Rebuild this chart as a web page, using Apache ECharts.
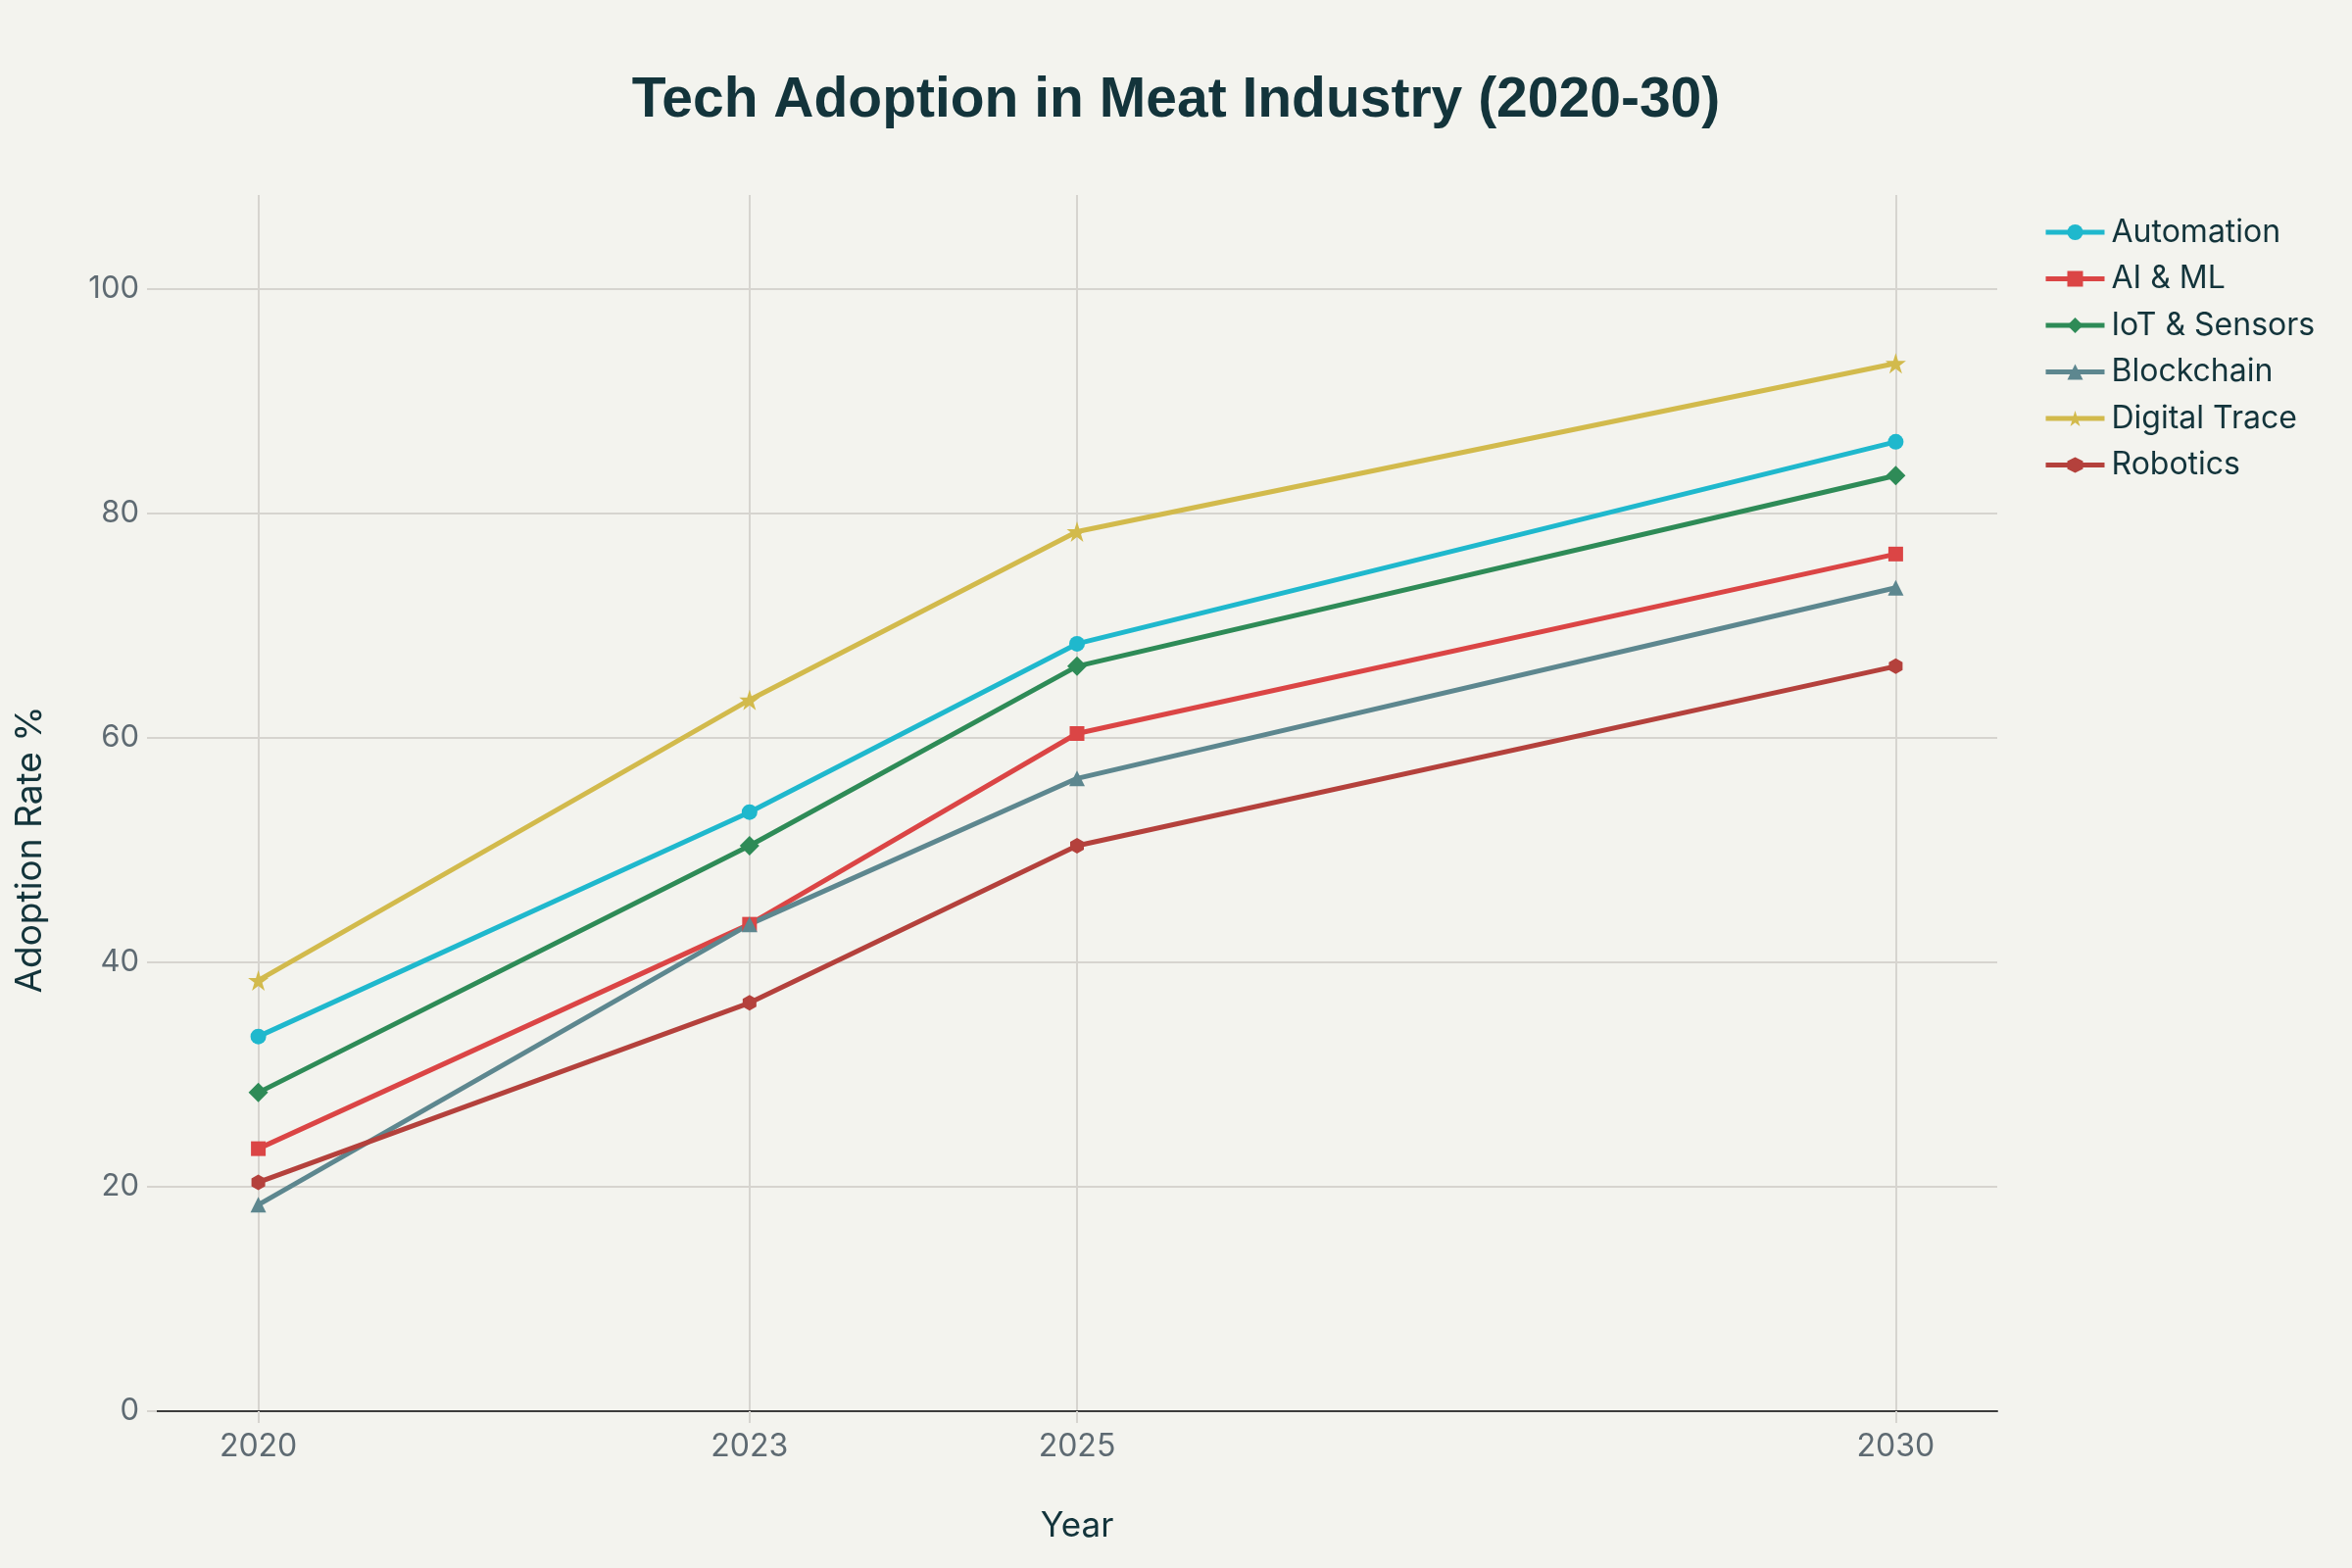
<!DOCTYPE html>
<html>
<head>
<meta charset="utf-8">
<script src="https://cdn.jsdelivr.net/npm/echarts@6/dist/echarts.min.js"></script>
<style>
  html, body { margin: 0; padding: 0; background: #F3F3EE; }
  #chart { width: 2400px; height: 1600px; }
</style>
</head>
<body>
<div id="chart"></div>
<script>
// 数据
var years = [2020, 2023, 2025, 2030]
var yTicks = [0, 20, 40, 60, 80, 100]
var names = ['Automation', 'AI & ML', 'IoT & Sensors', 'Blockchain', 'Digital Trace', 'Robotics']
var automation = [33.4, 53.4, 68.4, 86.4]
var aiml = [23.4, 43.4, 60.4, 76.4]
var iot = [28.4, 50.4, 66.4, 83.4]
var blockchain = [18.4, 43.4, 56.4, 73.4]
var digitalTrace = [38.4, 63.4, 78.4, 93.4]
var robotics = [20.4, 36.4, 50.4, 66.4]

var colors = ['#1FB8CD', '#DB4545', '#2E8B57', '#5D878F', '#D2BA4C', '#B4413C']
var star = 'path://M0,-1 L0.2245,-0.309 L0.951,-0.309 L0.363,0.118 L0.588,0.809 L0,0.382 L-0.588,0.809 L-0.363,0.118 L-0.951,-0.309 L-0.2245,-0.309 Z'
var hexagon = 'path://M0,-1 L0.866,-0.5 L0.866,0.5 L0,1 L-0.866,0.5 L-0.866,-0.5 Z'
var symbols = ['circle', 'rect', 'diamond', 'triangle', star, hexagon]
var sizes = [16, 15, 20, 16, 21, [14, 16]]

var gridColor = '#D6D4CF'
var textColor = '#13343B'
var tickColor = '#5E6A72'
var font = 'Inter'

function pairs(vals) {
  var out = []
  for (var i = 0; i < years.length; i++) {
    out.push([years[i], vals[i]])
  }
  return out
}

var allData = [automation, aiml, iot, blockchain, digitalTrace, robotics]
var series = []
for (var i = 0; i < names.length; i++) {
  series.push({
    name: names[i],
    type: 'line',
    data: pairs(allData[i]),
    symbol: symbols[i],
    symbolSize: sizes[i],
    showAllSymbol: true,
    lineStyle: { width: 5, color: colors[i] },
    itemStyle: { color: colors[i] },
    emphasis: { disabled: true },
  })
}

var myChart = echarts.init(document.getElementById('chart'))
var option = {
  backgroundColor: '#F3F3EE',
  animation: false,
  color: colors,
  title: {
    text: 'Tech Adoption in Meat Industry (2020-30)',
    left: 'center',
    top: 70,
    textStyle: {
      fontFamily: 'Liberation Sans',
      fontWeight: 'bold',
      fontSize: 57,
      color: textColor,
    },
  },
  legend: {
    orient: 'vertical',
    left: 2080,
    top: 216,
    itemWidth: 60,
    itemHeight: 20,
    itemGap: 15.5,
    lineStyle: { width: 5 },
    textStyle: { fontFamily: font, fontSize: 32, color: textColor, padding: [0, 0, 0, 2] },
    data: names,
  },
  grid: { left: 160, right: 362, top: 199, bottom: 160, containLabel: false },
  xAxis: {
    type: 'value',
    min: 2019.38,
    max: 2030.62,
    name: 'Year',
    nameLocation: 'middle',
    nameGap: 100,
    nameTextStyle: { fontFamily: font, fontSize: 35, color: textColor },
    axisLine: { show: true, lineStyle: { color: '#3C3C3C', width: 2 } },
    axisTick: {
      show: true,
      length: 12,
      customValues: years,
      lineStyle: { color: gridColor, width: 2 },
    },
    axisLabel: {
      customValues: years,
      margin: 20,
      fontFamily: font,
      fontSize: 32,
      color: tickColor,
      formatter: function (v) {
        return String(Math.round(v))
      },
    },
    splitLine: { show: true, lineStyle: { color: gridColor, width: 2 } },
  },
  yAxis: {
    type: 'value',
    min: 0,
    max: 108.4,
    axisLine: { show: false },
    axisTick: {
      show: true,
      length: 10,
      customValues: yTicks,
      lineStyle: { color: gridColor, width: 2 },
    },
    axisLabel: {
      customValues: yTicks,
      margin: 18,
      fontFamily: font,
      fontSize: 31,
      color: tickColor,
    },
    splitLine: { show: true, lineStyle: { color: gridColor, width: 2 } },
  },
  graphic: [
    {
      type: 'text',
      x: 31,
      y: 867,
      rotation: Math.PI / 2,
      style: {
        text: 'Adoption Rate %',
        fontFamily: font,
        fontSize: 37,
        fill: textColor,
        align: 'center',
        verticalAlign: 'middle',
      },
    },
  ],
  series: series,
}
myChart.setOption(option)
</script>
</body>
</html>
